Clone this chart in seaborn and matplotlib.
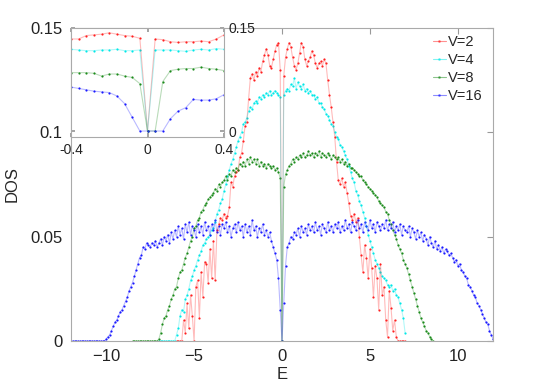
import numpy as np
import matplotlib
matplotlib.use("Agg")
import matplotlib.pyplot as plt
from matplotlib.lines import Line2D
import seaborn as sns

# DOS values in units of 1e-3, sampled every 0.1 in E
red_start = -6.0
red = [0, 0, 0, 0, 10, 4, 18, 6, 22, 12,
       0, 26, 29, 11, 33, 21, 38, 37, 28, 44,
       30, 48, 29, 53, 56, 59, 58, 61, 59, 60,
       64, 76, 74, 79, 81, 82, 88, 90, 96, 103,
       105, 116, 126, 128, 125, 129, 127, 131, 129, 134,
       137, 140, 137, 132, 131, 135, 139, 142, 143, 130,
       0,
       127, 136, 140, 143, 141, 136, 132, 130, 133, 138,
       143, 141, 135, 132, 134, 136, 139, 137, 133, 131,
       133, 134, 132, 135, 133, 125, 118, 112, 105, 98,
       86, 77, 75, 78, 74, 76, 71, 66, 60, 58,
       61, 57, 59, 50, 41, 33, 46, 40, 30, 44,
       35, 21, 36, 30, 15, 37, 22, 26, 10, 2,
       24, 16, 5, 10, 2, 0, 0, 0, 0, 0]

cyan_start = -7.0
cyan = [0, 0, 0, 0, 0, 0, 0, 0, 0, 0,
        3, 6, 12, 15, 14, 20, 22, 25, 29, 31,
        34, 36, 39, 41, 43, 46, 47, 49, 50, 51,
        53, 54, 57, 61, 63, 66, 68, 72, 75, 79,
        82, 85, 87, 90, 93, 96, 98, 100, 104, 105,
        107, 110, 112, 111, 114, 115, 114, 117, 116, 118,
        117, 119, 118, 120, 118, 119, 120, 119, 118, 117,
        0,
        118, 120, 121, 120, 123, 122, 126, 121, 124, 122,
        121, 123, 120, 121, 119, 120, 118, 118, 116, 117,
        114, 114, 112, 111, 109, 108, 106, 104, 103, 100,
        98, 97, 94, 93, 91, 89, 87, 84, 81, 78,
        76, 72, 70, 67, 65, 62, 59, 55, 51, 48,
        45, 42, 39, 37, 35, 33, 31, 30, 29, 27,
        26, 27, 24, 25, 22, 21, 18, 15, 11, 4]

green_start = -8.5
green = [0, 0, 0, 0, 0, 0, 0, 0, 0, 0, 0, 0, 0, 0, 0,
         1, 4, 8, 11, 12, 15, 17, 20, 22, 25,
         26, 30, 33, 34, 37, 40, 42, 45, 48, 50,
         54, 55, 58, 59, 62, 63, 65, 66, 68, 69,
         70, 71, 73, 72, 75, 74, 76, 77, 79, 77,
         80, 79, 82, 81, 83, 82, 85, 84, 86, 84,
         87, 85, 88, 86, 87, 85, 87, 84, 86, 84,
         85, 83, 85, 84, 83, 84, 82, 83, 81, 78,
         0,
         74, 80, 82, 84, 85, 87, 86, 88, 87, 89,
         88, 90, 88, 89, 91, 89, 90, 88, 90, 89,
         91, 88, 90, 89, 88, 90, 89, 87, 89, 88,
         87, 88, 86, 87, 85, 86, 84, 85, 83, 83,
         82, 81, 80, 79, 79, 77, 76, 75, 74, 73,
         72, 71, 70, 69, 67, 66, 65, 64, 62, 61,
         58, 56, 53, 51, 49, 46, 44, 42, 39, 37,
         35, 32, 29, 26, 23, 20, 17, 14, 11, 9,
         7, 5, 4, 2, 1, 0]

blue_start = -12.0
blue = [0, 0, 0, 0, 0, 0, 0, 0, 0, 0,
        0, 0, 0, 0, 0, 0, 0, 0, 0, 0,
        1, 2, 3, 5, 7, 9, 10, 12, 14, 15,
        17, 19, 21, 24, 26, 28, 31, 34, 37, 40,
        41, 45, 44, 47, 46, 45, 47, 46, 48, 45,
        47, 49, 46, 50, 48, 51, 47, 52, 49, 53,
        50, 55, 51, 54, 49, 56, 52, 57, 51, 55,
        53, 50, 56, 52, 55, 51, 57, 53, 55, 51,
        56, 53, 58, 52, 55, 51, 56, 54, 57, 52,
        55, 50, 54, 56, 52, 57, 53, 55, 50, 56,
        52, 55, 51, 58, 53, 55, 50, 54, 52, 56,
        51, 53, 50, 52, 48, 45, 42, 39, 30, 15,
        0,
        18, 36, 45, 47, 50, 49, 52, 51, 54, 50,
        55, 52, 54, 51, 56, 53, 55, 52, 57, 53,
        55, 51, 56, 54, 52, 57, 53, 55, 52, 56,
        54, 57, 52, 55, 53, 58, 54, 56, 52, 57,
        55, 53, 58, 54, 56, 52, 57, 55, 53, 58,
        54, 56, 52, 57, 55, 53, 56, 54, 58, 53,
        56, 54, 57, 52, 55, 53, 56, 51, 55, 53,
        52, 55, 50, 54, 52, 49, 53, 50, 52, 48,
        51, 49, 46, 50, 47, 45, 48, 44, 46, 43,
        45, 42, 44, 43, 41, 42, 40, 38, 39, 36,
        37, 34, 33, 31, 30, 27, 26, 24, 22, 21,
        18, 17, 15, 13, 11, 9, 8, 5, 3, 1]

# inset (zoom around E=0), step 0.04
inset_e = [-0.40, -0.36, -0.32, -0.28, -0.24, -0.20, -0.16, -0.12, -0.08, -0.04, 0.0,
           0.04, 0.08, 0.12, 0.16, 0.20, 0.24, 0.28, 0.32, 0.36, 0.40]
inset_red = [134, 134, 139, 140, 141, 143, 141, 139, 138, 135, 0,
             134, 133, 130, 129, 130, 130, 131, 130, 134, 140]
inset_cyan = [119, 118, 117, 117, 118, 118, 119, 117, 117, 118, 0,
              118, 118, 118, 117, 116, 118, 119, 118, 120, 119]
inset_green = [85, 85, 85, 84, 80, 83, 83, 80, 78, 69, 0,
               0, 72, 88, 90, 91, 91, 93, 91, 90, 88]
inset_blue = [64, 62, 60, 58, 57, 56, 51, 40, 20, 0, 0,
              0, 0, 18, 29, 34, 46, 45, 45, 47, 53]

labels = ["V=2", "V=4", "V=8", "V=16"]
colors = ["#ff2020", "#00e8e8", "#1a8a1a", "#1a1aff"]

sns.set_theme(style="white")
plt.rcParams["font.family"] = ["Liberation Sans", "DejaVu Sans"]
plt.rcParams["font.size"] = 10

fig = plt.figure(figsize=(5.45, 3.86), dpi=100)
W, H = 545, 386
ax = fig.add_axes([71 / W, 1 - 341 / H, (493 - 71) / W, (341 - 28) / H])

def e_grid(start, vals):
    return np.round(start + 0.1 * np.arange(len(vals)), 1)

series = [(red_start, red), (cyan_start, cyan), (green_start, green), (blue_start, blue)]
for (start, vals), c in zip(series, colors):
    x = e_grid(start, vals)
    y = np.array(vals) / 1000.0
    sns.lineplot(x=x, y=y, ax=ax, color=c, lw=0.8, alpha=0.3, sort=False)
    sns.scatterplot(x=x, y=y, ax=ax, color=c, s=2.5, linewidth=0)

ax.set_xlim(-12, 12)
ax.set_ylim(0, 0.15)
ax.set_xticks([-10, -5, 0, 5, 10])
ax.set_yticks([0, 0.05, 0.1, 0.15])
ax.set_yticklabels(["0", "0.05", "0.1", "0.15"])
ax.set_xlabel("E", fontsize=12, labelpad=2)
ax.set_ylabel("DOS", fontsize=12, labelpad=8)
ax.tick_params(direction="in", length=4, width=0.8, color="#999999",
               top=True, right=True, labelsize=12, pad=6, labelcolor="#222222")
for s in ax.spines.values():
    s.set_color("#aaaaaa")
    s.set_linewidth(0.8)

handles = [Line2D([0], [0], color=c, alpha=0.5, lw=0.8, marker=".", markersize=2,
                  markerfacecolor=c) for c in colors]
ax.legend(handles, labels, loc="upper left", bbox_to_anchor=(0.857, 0.978),
          frameon=False, fontsize=10.5, handlelength=0.9, handletextpad=0.15,
          labelspacing=0.28, borderpad=0, borderaxespad=0, numpoints=1)

# inset
axi = fig.add_axes([71 / W, 1 - 137 / H, (224 - 71) / W, (137 - 28) / H])
axi.set_facecolor("white")
for vals, c in zip([inset_red, inset_cyan, inset_green, inset_blue], colors):
    y = np.array(vals) / 1000.0
    sns.lineplot(x=inset_e, y=y, ax=axi, color=c, lw=0.8, alpha=0.3, sort=False)
    sns.scatterplot(x=inset_e, y=y, ax=axi, color=c, s=2.5, linewidth=0)
axi.set_xlim(-0.4, 0.4)
axi.set_ylim(-0.0087, 0.15)
axi.set_xticks([-0.4, 0, 0.4])
axi.set_xticklabels(["-0.4", "0", "0.4"])
axi.set_yticks([0, 0.15])
axi.set_yticklabels(["0", "0.15"])
axi.yaxis.tick_right()
axi.tick_params(axis="y", direction="in", length=3, left=True, right=True,
                labelsize=10, pad=3, color="#999999", labelcolor="#222222")
axi.tick_params(axis="x", direction="in", length=3, top=True, bottom=True,
                labelsize=10, pad=4, color="#999999", labelcolor="#222222")
axi.set_xlabel("")
axi.set_ylabel("")
for s in axi.spines.values():
    s.set_color("#aaaaaa")
    s.set_linewidth(0.8)

fig.savefig("out.png", dpi=100)
